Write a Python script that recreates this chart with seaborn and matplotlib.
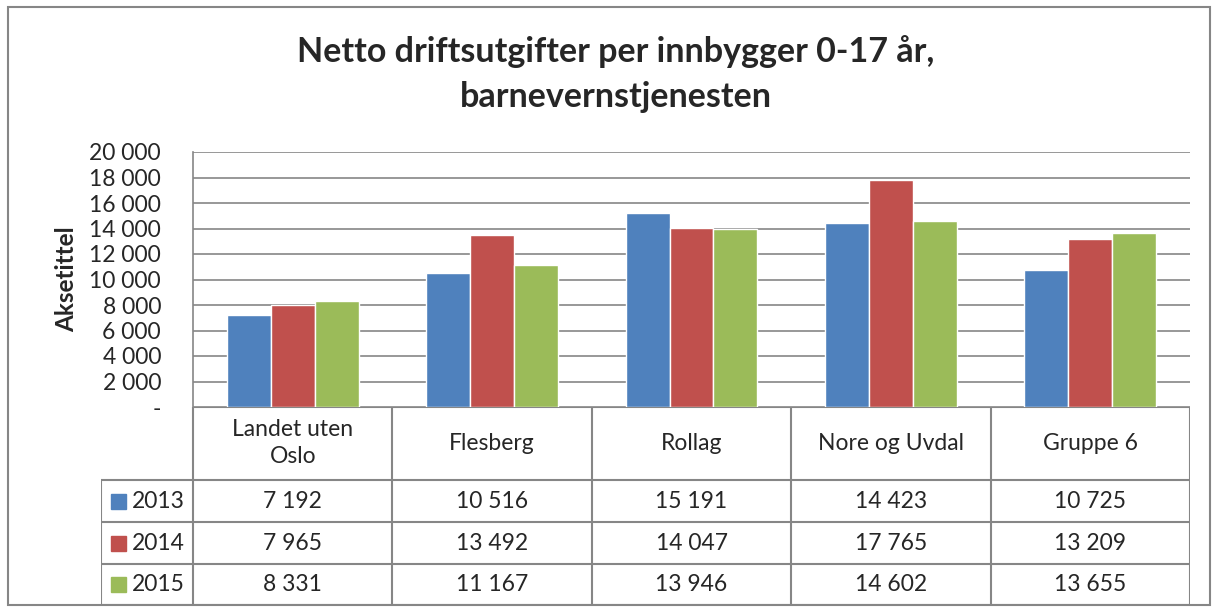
import pandas as pd
import numpy as np
import matplotlib.pyplot as plt
import seaborn as sns

# data
kategorier = ['Landet uten\nOslo', 'Flesberg', 'Rollag', 'Nore og Uvdal', 'Gruppe 6']
aar = ['2013', '2014', '2015']
v2013 = [7192, 10516, 15191, 14423, 10725]
v2014 = [7965, 13492, 14047, 17765, 13209]
v2015 = [8331, 11167, 13946, 14602, 13655]
farger = ['#4F81BD', '#C0504D', '#9BBB59']
yticks = [0, 2000, 4000, 6000, 8000, 10000, 12000, 14000, 16000, 18000, 20000]

rows = []
for a, vals in zip(aar, [v2013, v2014, v2015]):
    for k, v in zip(kategorier, vals):
        rows.append({'kategori': k, 'aar': a, 'verdi': v})
df = pd.DataFrame(rows)

def fmt(v):
    return '-' if v == 0 else f'{v:,.0f}'.replace(',', ' ')

sns.set_style('white')
plt.rcParams['font.family'] = ['Lato', 'DejaVu Sans']
fs = 16.5

W, H = 1214, 612
fig = plt.figure(figsize=(W / 100, H / 100), dpi=100)

# outer frame
fig.patches.append(plt.Rectangle((8 / W, 1 - 605 / H), 1202 / W, 598 / H, transform=fig.transFigure,
                                 fill=False, edgecolor='#868686', lw=1.5))

# bar axes
x0, x1 = 193, 1190
ytop, ybot = 152, 407
ax = fig.add_axes([x0 / W, 1 - ybot / H, (x1 - x0) / W, (ybot - ytop) / H])
sns.barplot(data=df, x='kategori', y='verdi', hue='aar', palette=farger, saturation=1,
            width=0.66, ax=ax, legend=False)
ax.set_xlim(-0.5, 4.5)
ax.set_ylim(0, 20000)
ax.set_yticks(yticks)
ax.set_yticklabels([fmt(t) for t in yticks], fontsize=fs)
ax.tick_params(axis='y', length=0, pad=23)
ax.set_xticks([])
ax.set_xlabel('')
ax.set_ylabel('Aksetittel', fontsize=17.5, fontweight='bold', labelpad=8)
ax.yaxis.grid(True, color='#868686', lw=1.2)
ax.set_axisbelow(True)
for s in ['top', 'right', 'bottom']:
    ax.spines[s].set_visible(False)
ax.spines['left'].set_color('#868686')
ax.spines['left'].set_linewidth(1.2)
ax.patch.set_alpha(0)

fig.text(616 / W, 1 - 52 / H, 'Netto driftsutgifter per innbygger 0-17 år,', ha='center', va='center',
         fontsize=24.5, fontweight='bold')
fig.text(616 / W, 1 - 97 / H, 'barnevernstjenesten', ha='center', va='center',
         fontsize=24.5, fontweight='bold')

# data table below
tx0 = 101
tab = fig.add_axes([tx0 / W, 1 - 605 / H, (x1 - tx0) / W, (605 - ybot) / H])
unit = (x1 - x0) / 5
left = -0.5 - (x0 - tx0) / unit
tab.set_xlim(left, 4.5)
tab.set_ylim(605 - ybot, 0)
tab.axis('off')
lc = '#868686'
row_edges = [0, 73, 115, 157, 198]
tab.plot([-0.5, 4.5], [0, 0], color=lc, lw=1.5)
for i in range(6):
    tab.plot([i - 0.5, i - 0.5], [0, 198], color=lc, lw=1.5)
for y in row_edges[1:]:
    tab.plot([left, 4.5], [y, y], color=lc, lw=1.5)
tab.plot([left, left], [73, 198], color=lc, lw=1.5)
for i, k in enumerate(kategorier):
    tab.text(i, 36, k, ha='center', va='center', fontsize=fs, linespacing=1.3)
sq = 15 / unit
for r, (a, vals, c) in enumerate(zip(aar, [v2013, v2014, v2015], farger)):
    yc = (row_edges[r + 1] + row_edges[r + 2]) / 2
    tab.add_patch(plt.Rectangle((left + 10 / unit, yc - 7.5), sq, 15, color=c))
    tab.text(left + 31 / unit, yc, a, ha='left', va='center', fontsize=fs)
    for i, v in enumerate(vals):
        tab.text(i, yc, fmt(v), ha='center', va='center', fontsize=fs)

fig.savefig('out.png', dpi=100)
